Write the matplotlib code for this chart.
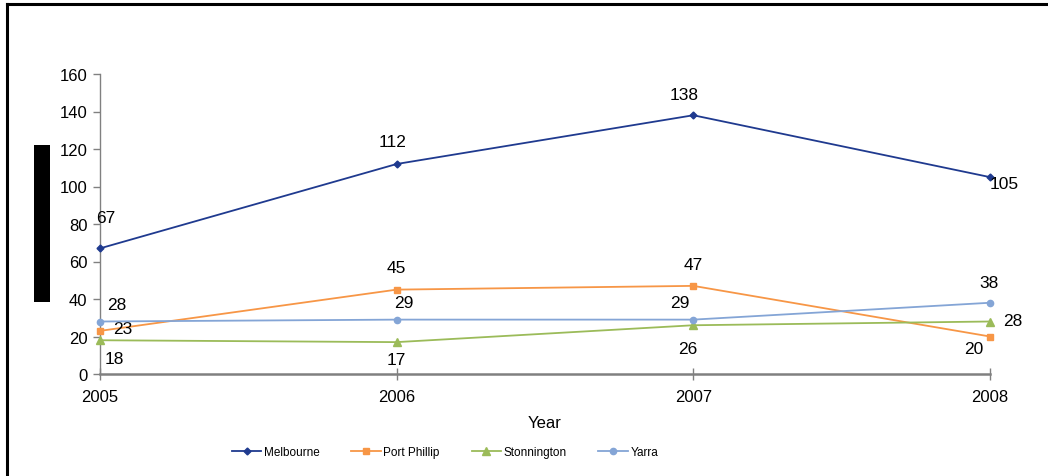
import matplotlib
matplotlib.use("Agg")
import matplotlib.pyplot as plt
from matplotlib.patches import Rectangle
from matplotlib.lines import Line2D

plt.rcParams['font.family'] = ['Liberation Sans', 'DejaVu Sans']

years = [2005, 2006, 2007, 2008]
melbourne = [67, 112, 138, 105]
port_phillip = [23, 45, 47, 20]
stonnington = [18, 17, 26, 28]
yarra = [28, 29, 29, 38]

series_names = ["Melbourne", "Port Phillip", "Stonnington", "Yarra"]
y_ticks = [0, 20, 40, 60, 80, 100, 120, 140, 160]

colors = ["#1f3a8f", "#f79646", "#9bbb59", "#84a5d6"]
markers = ["D", "s", "^", "o"]
msizes = [3.5, 4.5, 5.5, 4.5]

# per-point label offsets in pixels (dx, dy), dy positive = up
offsets = [
    [(6, 31), (-4, 22), (-9, 21), (14, -6)],
    [(23, 2), (0, 22), (0, 21), (-16, -12)],
    [(14, -18), (0, -17), (-6, -23), (23, 1)],
    [(17, 17), (7, 17), (-14, 17), (-1, 20)],
]

W, H, DPI = 1048, 477, 100
fig = plt.figure(figsize=(W / DPI, H / DPI), dpi=DPI)
ax = fig.add_axes([100 / W, 1 - 375 / H, 890 / W, 300 / H])

all_series = [melbourne, port_phillip, stonnington, yarra]
px_to_pt = 72 / DPI
for vals, name, c, m, ms, offs in zip(all_series, series_names, colors, markers, msizes, offsets):
    ax.plot(years, vals, color=c, lw=1.3, marker=m, ms=ms, mec=c, mfc=c,
            label=name, clip_on=False, zorder=3)
    for x, v, (dx, dy) in zip(years, vals, offs):
        ax.annotate(str(v), (x, v), xytext=(dx * px_to_pt, dy * px_to_pt),
                    textcoords="offset points", ha="center", va="center",
                    fontsize=12.5, color="black")

ax.set_xlim(2005, 2008)
ax.set_ylim(0, 160)
ax.set_yticks(y_ticks)
ax.set_xticks(years)
ax.set_xticklabels([str(y) for y in years])
ax.tick_params(axis="y", direction="out", length=5, width=1, color="#808080",
               labelsize=12, pad=4)
ax.tick_params(axis="x", direction="inout", length=8, width=1, color="#808080",
               labelsize=12, pad=7)
for s in ["top", "right"]:
    ax.spines[s].set_visible(False)
ax.spines["left"].set_color("#808080")
ax.spines["left"].set_linewidth(1)
ax.spines["bottom"].set_color("#808080")
ax.spines["bottom"].set_linewidth(1.8)
ax.set_xlabel("Year", fontsize=12, labelpad=8)

# legend below the axes
handles = [Line2D([], [], color=c, lw=1.3, marker=m, ms=ms, mec=c, mfc=c)
           for c, m, ms in zip(colors, markers, msizes)]
fig.legend(handles, series_names, loc="center", bbox_to_anchor=(445 / W, 1 - 453 / H),
           ncol=4, frameon=False, handlelength=2.5, handletextpad=0.2,
           columnspacing=2.7, borderpad=0, prop={"size": 8.5})

# frame lines on top and left
fig.add_artist(Line2D([6.5 / W, 6.5 / W], [0, 1 - 4.5 / H], transform=fig.transFigure,
                      color="black", lw=2.2))
fig.add_artist(Line2D([6.5 / W, 1], [1 - 4.5 / H, 1 - 4.5 / H], transform=fig.transFigure,
                      color="black", lw=2.2))
# black bar where the vertical axis title sits
fig.add_artist(Rectangle((34 / W, 1 - 303 / H), 16 / W, 157 / H, transform=fig.transFigure,
                         facecolor="black", edgecolor="none"))

fig.savefig("out.png", dpi=DPI)
